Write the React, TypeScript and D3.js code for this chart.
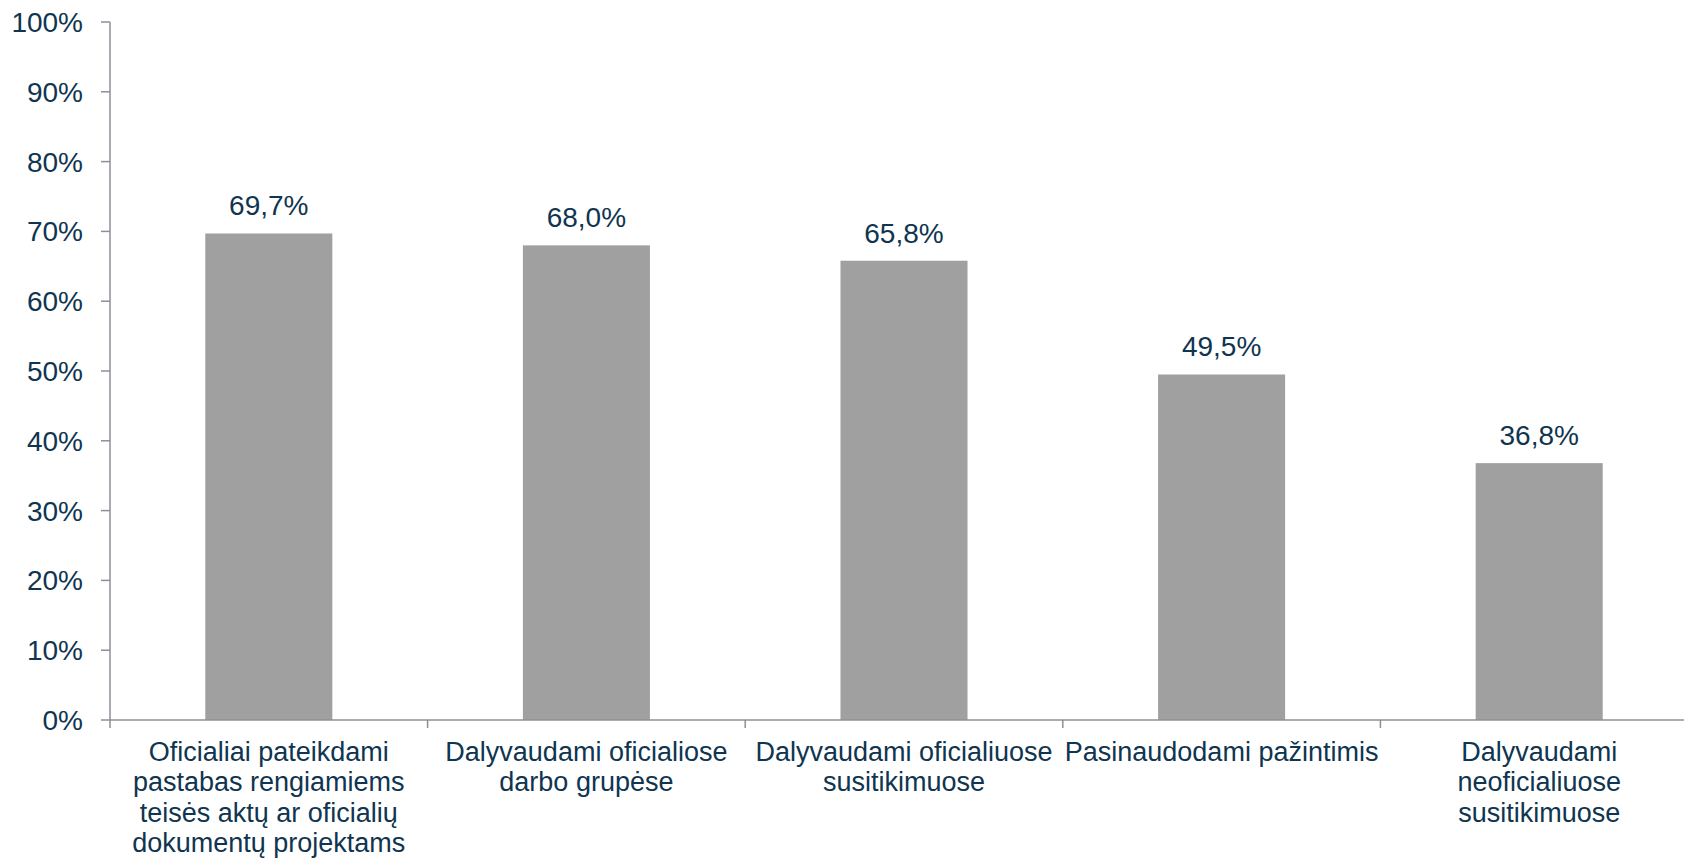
import React from "react";
import * as d3 from "d3";

const categories: string[][] = [
  ["Oficialiai pateikdami", "pastabas rengiamiems", "teisės aktų ar oficialių", "dokumentų projektams"],
  ["Dalyvaudami oficialiose", "darbo grupėse"],
  ["Dalyvaudami oficialiuose", "susitikimuose"],
  ["Pasinaudodami pažintimis"],
  ["Dalyvaudami", "neoficialiuose", "susitikimuose"],
];
const values: number[] = [0.697, 0.68, 0.658, 0.495, 0.368];
const valueLabels: string[] = ["69,7%", "68,0%", "65,8%", "49,5%", "36,8%"];
const yTicks: number[] = [0, 0.1, 0.2, 0.3, 0.4, 0.5, 0.6, 0.7, 0.8, 0.9, 1.0];

const W = 1684;
const H = 859;
const TEXT = "#0f3550";
const AXIS = "#8c9096";
const BAR = "#a0a0a0";
const FONT = "'Liberation Sans', Arial, sans-serif";

export default function App() {
  const left = 110;
  const right = 1698;
  const top = 22;
  const bottom = 720;
  const ids = categories.map((_, i) => String(i));
  const xCat = d3.scaleBand<string>().domain(ids).range([left, right]).padding(0);
  const xBar = d3
    .scaleBand<string>()
    .domain(ids)
    .range([left, right])
    .paddingInner(0.6)
    .paddingOuter(0.3);
  const y = d3.scaleLinear().domain([0, 1]).range([bottom, top]);
  const fmt = d3.format(".0%");
  const fs = 27;
  const fsBig = 28;
  const lineH = 30.5;

  return (
    <div style={{ position: "fixed", left: 0, top: 0, width: W, height: H, background: "#fff" }}>
      <svg width={W} height={H} style={{ display: "block" }} fontFamily={FONT}>
        {/* bars */}
        {values.map((v, i) => (
          <rect
            key={"b" + i}
            x={xBar(ids[i])}
            y={y(v)}
            width={xBar.bandwidth()}
            height={y(0) - y(v)}
            fill={BAR}
          />
        ))}
        {/* value labels */}
        {values.map((v, i) => (
          <text
            key={"v" + i}
            x={(xBar(ids[i]) as number) + xBar.bandwidth() / 2}
            y={y(v) - 18}
            textAnchor="middle"
            fontSize={fsBig}
            fill={TEXT}
          >
            {valueLabels[i]}
          </text>
        ))}
        {/* y axis */}
        <line x1={left} x2={left} y1={y(1)} y2={bottom + 8} stroke={AXIS} strokeWidth={1.5} />
        {yTicks.map((t) => (
          <g key={"t" + t}>
            <line x1={left - 9} x2={left} y1={y(t)} y2={y(t)} stroke={AXIS} strokeWidth={1.5} />
            <text x={83} y={y(t) + 10} textAnchor="end" fontSize={fsBig} fill={TEXT}>
              {fmt(t)}
            </text>
          </g>
        ))}
        {/* x axis */}
        <line x1={left} x2={right} y1={bottom} y2={bottom} stroke={AXIS} strokeWidth={1.5} />
        {ids.map((id) => (
          <line
            key={"xt" + id}
            x1={(xCat(id) as number) + xCat.bandwidth()}
            x2={(xCat(id) as number) + xCat.bandwidth()}
            y1={bottom}
            y2={bottom + 8}
            stroke={AXIS}
            strokeWidth={1.5}
          />
        ))}
        {/* category labels */}
        {categories.map((lines, i) => (
          <text
            key={"c" + i}
            textAnchor="middle"
            fontSize={fs}
            fill={TEXT}
          >
            {lines.map((ln, j) => (
              <tspan
                key={j}
                x={(xCat(ids[i]) as number) + xCat.bandwidth() / 2}
                y={bottom + 40.5 + j * lineH}
              >
                {ln}
              </tspan>
            ))}
          </text>
        ))}
      </svg>
    </div>
  );
}
